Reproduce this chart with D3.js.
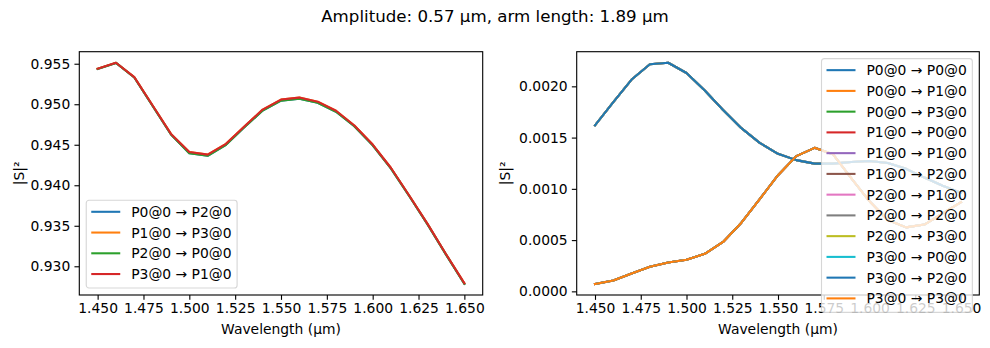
<!DOCTYPE html>
<html>
<head>
<meta charset="utf-8">
<script src="https://cdn.jsdelivr.net/npm/d3@7"></script>
<style>
  html, body { margin: 0; padding: 0; background: #fff; }
  svg { display: block; font-family: "DejaVu Sans", sans-serif; }
</style>
</head>
<body>
<svg id="chart" width="990" height="348"></svg>
<script>
// ---------------- DATA ----------------
const title = "Amplitude: 0.57 µm, arm length: 1.89 µm";
const wavelength = [1.45, 1.46, 1.47, 1.48, 1.49, 1.50, 1.51, 1.52, 1.53, 1.54, 1.55,
                    1.56, 1.57, 1.58, 1.59, 1.60, 1.61, 1.62, 1.63, 1.64, 1.65];

// Left panel: transmission
const transP0P2 = [0.95436, 0.95510, 0.95330, 0.94978, 0.94626, 0.94396, 0.94364, 0.94500, 0.94715, 0.94922, 0.95044,
                   0.95068, 0.95018, 0.94908, 0.94728, 0.94494, 0.94206, 0.93864, 0.93514, 0.93144, 0.92782];
const transP1P3 = [0.95438, 0.95512, 0.95334, 0.94984, 0.94634, 0.94410, 0.94378, 0.94512, 0.94726, 0.94934, 0.95058,
                   0.95082, 0.95032, 0.94920, 0.94738, 0.94502, 0.94213, 0.93870, 0.93520, 0.93149, 0.92790];
const transP2P0 = [0.95436, 0.95510, 0.95330, 0.94978, 0.94626, 0.94396, 0.94364, 0.94500, 0.94715, 0.94922, 0.95044,
                   0.95068, 0.95018, 0.94908, 0.94728, 0.94494, 0.94206, 0.93864, 0.93514, 0.93144, 0.92782];
const transP3P1 = [0.95438, 0.95512, 0.95334, 0.94984, 0.94634, 0.94410, 0.94378, 0.94512, 0.94726, 0.94934, 0.95058,
                   0.95082, 0.95032, 0.94920, 0.94738, 0.94502, 0.94213, 0.93870, 0.93520, 0.93149, 0.92790];
const leftLabels = ["P0@0 → P2@0", "P1@0 → P3@0", "P2@0 → P0@0", "P3@0 → P1@0"];
const leftValues = [transP0P2, transP1P3, transP2P0, transP3P1];

// Right panel: reflection / crosstalk (two distinct curves, the rest overlap exactly)
const curveHigh = [0.001619, 0.001846, 0.002066, 0.002215, 0.002230, 0.002130, 0.001960, 0.001770, 0.001592, 0.001449, 0.001342,
                   0.001280, 0.001246, 0.001246, 0.001262, 0.001272, 0.001252, 0.001195, 0.001110, 0.001030, 0.000962];
const curveLow  = [0.0000723, 0.000105, 0.000175, 0.000240, 0.000282, 0.000308, 0.000366, 0.000482, 0.000670, 0.000900, 0.001133,
                   0.001319, 0.001400, 0.001338, 0.001105, 0.000878, 0.000696, 0.000624, 0.000652, 0.000760, 0.000870];
const rightLabels = ["P0@0 → P0@0", "P0@0 → P1@0", "P0@0 → P3@0", "P1@0 → P0@0", "P1@0 → P1@0", "P1@0 → P2@0",
                     "P2@0 → P1@0", "P2@0 → P2@0", "P2@0 → P3@0", "P3@0 → P0@0", "P3@0 → P2@0", "P3@0 → P3@0"];
const rightValues = [curveHigh, curveLow, curveHigh, curveLow, curveHigh, curveLow,
                     curveHigh, curveLow, curveHigh, curveLow, curveHigh, curveLow];

const xTicks = [1.450, 1.475, 1.500, 1.525, 1.550, 1.575, 1.600, 1.625, 1.650];
const leftYTicks = [0.930, 0.935, 0.940, 0.945, 0.950, 0.955];
const rightYTicks = [0.0000, 0.0005, 0.0010, 0.0015, 0.0020];
const xLabel = "Wavelength (µm)";
const yLabel = "|S|²";

const colors = ["#1f77b4", "#ff7f0e", "#2ca02c", "#d62728", "#9467bd",
                "#8c564b", "#e377c2", "#7f7f7f", "#bcbd22", "#17becf"];

// ---------------- DRAW ----------------
const svg = d3.select("#chart");
const FS = 13.89;

svg.append("text")
  .attr("x", 495).attr("y", 22.3)
  .attr("text-anchor", "middle")
  .attr("font-size", 16.67)
  .attr("fill", "#000")
  .text(title);

function panel(opts) {
  const { x0, x1, y0, y1, labels, values, yTicks, yFmt, legendLoc, ylabelX, id } = opts;
  const g = svg.append("g");
  const allX = wavelength;
  const xmin = d3.min(allX), xmax = d3.max(allX);
  const xm = (xmax - xmin) * 0.05;
  const x = d3.scaleLinear().domain([xmin - xm, xmax + xm]).range([x0, x1]);
  const flat = values.flat();
  const ymin = d3.min(flat), ymax = d3.max(flat);
  const ym = (ymax - ymin) * 0.05;
  const y = d3.scaleLinear().domain([ymin - ym, ymax + ym]).range([y1, y0]);

  g.append("clipPath").attr("id", id)
    .append("rect").attr("x", x0).attr("y", y0).attr("width", x1 - x0).attr("height", y1 - y0);

  const line = d3.line().x((d, i) => x(wavelength[i])).y(d => y(d));
  const lg = g.append("g").attr("clip-path", `url(#${id})`);
  values.forEach((vals, i) => {
    lg.append("path")
      .attr("d", line(vals))
      .attr("fill", "none")
      .attr("stroke", colors[i % colors.length])
      .attr("stroke-width", 2.08)
      .attr("stroke-linejoin", "round")
      .attr("stroke-linecap", "square");
  });

  // axes
  const xAxis = d3.axisBottom(x).tickValues(xTicks).tickFormat(d3.format(".3f"))
    .tickSize(4.86).tickPadding(3.6).tickSizeOuter(0);
  const yAxis = d3.axisLeft(y).tickValues(yTicks).tickFormat(d3.format(yFmt))
    .tickSize(4.86).tickPadding(4.2).tickSizeOuter(0);
  const gx = g.append("g").attr("transform", `translate(0,${y1})`).call(xAxis);
  const gy = g.append("g").attr("transform", `translate(${x0},0)`).call(yAxis);
  [gx, gy].forEach(a => {
    a.select(".domain").remove();
    a.selectAll(".tick line").attr("stroke", "#000").attr("stroke-width", 1.11);
    a.selectAll(".tick text").attr("font-size", FS).attr("fill", "#000")
      .attr("font-family", "DejaVu Sans, sans-serif");
  });

  // spines
  g.append("rect").attr("x", x0).attr("y", y0).attr("width", x1 - x0).attr("height", y1 - y0)
    .attr("fill", "none").attr("stroke", "#000").attr("stroke-width", 1.11);

  // axis labels
  g.append("text").attr("x", (x0 + x1) / 2).attr("y", 334)
    .attr("text-anchor", "middle").attr("font-size", FS).attr("fill", "#000").text(xLabel);
  g.append("text")
    .attr("transform", `translate(${ylabelX},${(y0 + y1) / 2}) rotate(-90)`)
    .attr("text-anchor", "middle").attr("dominant-baseline", "central")
    .attr("font-size", FS).attr("fill", "#000").text(yLabel);

  // legend
  const n = labels.length;
  const boxH = 11.5 + (n - 1) * 20.75 + 14;
  const leg = g.append("g");
  const frame = leg.append("rect");
  const texts = [];
  labels.forEach((lab, i) => {
    const cy = 11.5 + i * 20.75;
    leg.append("line").attr("x1", 5).attr("x2", 34).attr("y1", cy).attr("y2", cy)
      .attr("stroke", colors[i % colors.length]).attr("stroke-width", 2.08);
    texts.push(leg.append("text").attr("x", 45).attr("y", cy + 5)
      .attr("font-size", FS).attr("fill", "#000").text(lab));
  });
  const maxW = d3.max(texts, t => t.node().getComputedTextLength());
  const boxW = 45 + maxW + 5.6;
  frame.attr("x", 0).attr("y", 0).attr("width", boxW).attr("height", boxH)
    .attr("rx", 2.8).attr("ry", 2.8)
    .attr("fill", "#fff").attr("fill-opacity", 0.8)
    .attr("stroke", "#cccccc").attr("stroke-opacity", 0.8).attr("stroke-width", 1.11);
  let lx, ly;
  if (legendLoc === "lower left") { lx = x0 + 6.95; ly = y1 - 6.95 - boxH; }
  else { lx = x1 - 6.95 - boxW; ly = y0 + 6.95; }
  leg.attr("transform", `translate(${lx},${ly})`);
}

panel({ x0: 79.3, x1: 482.7, y0: 51.7, y1: 295, labels: leftLabels, values: leftValues,
        yTicks: leftYTicks, yFmt: ".3f", legendLoc: "lower left", ylabelX: 18.5, id: "clipL" });
panel({ x0: 576.7, x1: 979.3, y0: 51.7, y1: 295, labels: rightLabels, values: rightValues,
        yTicks: rightYTicks, yFmt: ".4f", legendLoc: "upper right", ylabelX: 505, id: "clipR" });
</script>
</body>
</html>
